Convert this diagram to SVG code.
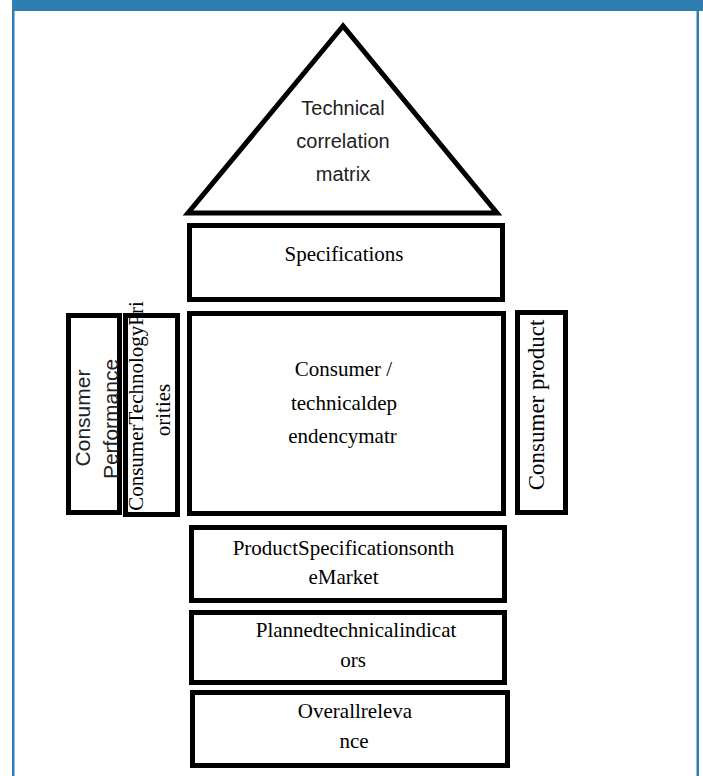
<svg xmlns="http://www.w3.org/2000/svg" width="703" height="776" viewBox="0 0 703 776">
<style>
.box{fill:#fff;stroke:#000;stroke-width:5}
.serif{font-family:"Liberation Serif","Times New Roman",serif;font-size:21px;fill:#000;text-anchor:middle}
.sans{font-family:"Liberation Sans",Arial,sans-serif;font-size:20px;fill:#222;text-anchor:middle}
.frame{fill:#2f7eb1}
</style>
<rect x="0" y="0" width="703" height="776" fill="#fff"/>
<g id="frame">
<rect class="frame" x="12" y="0" width="691" height="11"/>
<rect class="frame" x="12" y="0" width="2.5" height="776"/>
<rect class="frame" x="696.5" y="0" width="2.5" height="776"/>
</g>
<g id="roof">
<polygon points="343,26 188,213 497,213" fill="#fff" stroke="#000" stroke-width="5" stroke-linejoin="miter"/>
<text class="sans" x="343" y="115">Technical</text>
<text class="sans" x="343" y="148">correlation</text>
<text class="sans" x="343" y="181">matrix</text>
</g>
<g id="specifications">
<rect class="box" x="189.5" y="225.5" width="313" height="74"/>
<text class="serif" x="344" y="261">Specifications</text>
</g>
<g id="matrix">
<rect class="box" x="189.5" y="313.5" width="314" height="200"/>
<text class="serif" x="343.5" y="376">Consumer /</text>
<text class="serif" x="344" y="410">technicaldep</text>
<text class="serif" x="342.5" y="443">endencymatr</text>
</g>
<g id="consumer-performance">
<rect class="box" x="68.5" y="315.5" width="51" height="197"/>
<text class="sans" style="font-size:21px" transform="translate(90,418) rotate(-90)">Consumer</text>
<text class="sans" style="font-size:21px" transform="translate(118,419) rotate(-90)">Performance</text>
</g>
<g id="consumer-priorities">
<rect class="box" x="125.5" y="315.5" width="52" height="199"/>
<text class="serif" transform="translate(143,406) rotate(-90)">ConsumerTechnologyPri</text>
<text class="serif" transform="translate(170,410) rotate(-90)">orities</text>
</g>
<g id="consumer-product">
<rect class="box" x="517.5" y="312.5" width="48" height="200"/>
<text class="serif" style="font-size:23px" transform="translate(544,405) rotate(-90)">Consumer product</text>
</g>
<g id="product-specs">
<rect class="box" x="191.5" y="527.5" width="313" height="73"/>
<text class="serif" x="343.5" y="555">ProductSpecificationsonth</text>
<text class="serif" x="343.5" y="584">eMarket</text>
</g>
<g id="planned">
<rect class="box" x="191.5" y="612.5" width="313" height="70"/>
<text class="serif" x="356" y="637">Plannedtechnicalindicat</text>
<text class="serif" x="353" y="667">ors</text>
</g>
<g id="overall">
<rect class="box" x="192.5" y="692.5" width="315" height="73"/>
<text class="serif" x="355" y="718">Overallreleva</text>
<text class="serif" x="354" y="748">nce</text>
</g>
<g id="connectors"/>
</svg>
